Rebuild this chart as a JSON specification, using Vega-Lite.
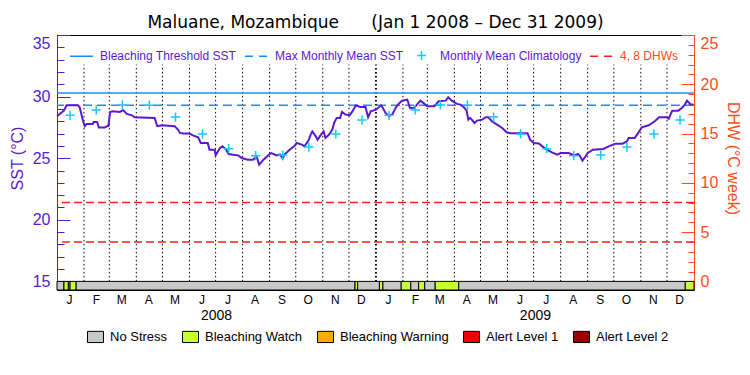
{
  "$schema": "https://vega.github.io/schema/vega-lite/v6.json",
  "width": 637,
  "height": 255,
  "autosize": {"type": "none"},
  "padding": {"left": 57, "top": 35, "right": 56, "bottom": 85},
  "background": "white",
  "config": {
    "view": {"stroke": "black", "strokeWidth": 1},
    "font": "Liberation Sans",
    "axis": {"labelFont": "Liberation Sans", "titleFont": "Liberation Sans", "titleFontWeight": "normal", "grid": false}
  },
  "title": {
    "text": "Maluane, Mozambique\u00a0\u00a0\u00a0\u00a0\u00a0\u00a0(Jan 1 2008 \u2013 Dec 31 2009)",
    "font": "DejaVu Sans", "fontSize": 17, "fontWeight": "normal", "color": "black",
    "offset": 3, "anchor": "middle"
  },
  "datasets": {
    "months": [
      {"date": "2008-02-01"}, {"date": "2008-03-01"}, {"date": "2008-04-01"}, {"date": "2008-05-01"},
      {"date": "2008-06-01"}, {"date": "2008-07-01"}, {"date": "2008-08-01"}, {"date": "2008-09-01"},
      {"date": "2008-10-01"}, {"date": "2008-11-01"}, {"date": "2008-12-01"}, {"date": "2009-01-01"},
      {"date": "2009-02-01"}, {"date": "2009-03-01"}, {"date": "2009-04-01"}, {"date": "2009-05-01"},
      {"date": "2009-06-01"}, {"date": "2009-07-01"}, {"date": "2009-08-01"}, {"date": "2009-09-01"},
      {"date": "2009-10-01"}, {"date": "2009-11-01"}, {"date": "2009-12-01"}
    ],
    "refs": [
      {"series": "Bleaching Threshold SST", "sst": 30.3},
      {"series": "Max Monthly Mean SST", "sst": 29.3}
    ],
    "dhw": [
      {"series": "4, 8 DHWs", "dhw": 4},
      {"series": "4, 8 DHWs", "dhw": 8}
    ],
    "sst": [
      {"date": "2008-01-01", "sst": 28.40}, {"date": "2008-01-09", "sst": 28.86}, {"date": "2008-01-12", "sst": 29.30},
      {"date": "2008-01-25", "sst": 29.30}, {"date": "2008-01-27", "sst": 29.13}, {"date": "2008-01-31", "sst": 28.00},
      {"date": "2008-02-02", "sst": 27.60}, {"date": "2008-02-04", "sst": 27.78}, {"date": "2008-02-11", "sst": 27.78},
      {"date": "2008-02-12", "sst": 27.94}, {"date": "2008-02-16", "sst": 27.94}, {"date": "2008-02-18", "sst": 27.50},
      {"date": "2008-02-25", "sst": 27.50}, {"date": "2008-02-28", "sst": 27.62}, {"date": "2008-02-29", "sst": 27.62},
      {"date": "2008-03-02", "sst": 28.75}, {"date": "2008-03-05", "sst": 28.80}, {"date": "2008-03-13", "sst": 28.75},
      {"date": "2008-03-17", "sst": 28.90}, {"date": "2008-03-21", "sst": 28.59}, {"date": "2008-03-27", "sst": 28.48},
      {"date": "2008-03-30", "sst": 28.32}, {"date": "2008-04-22", "sst": 28.27}, {"date": "2008-04-25", "sst": 27.60},
      {"date": "2008-04-30", "sst": 27.67}, {"date": "2008-05-15", "sst": 27.60}, {"date": "2008-05-19", "sst": 27.30},
      {"date": "2008-05-21", "sst": 27.05}, {"date": "2008-05-25", "sst": 27.00}, {"date": "2008-06-01", "sst": 27.00},
      {"date": "2008-06-05", "sst": 26.85}, {"date": "2008-06-11", "sst": 26.69}, {"date": "2008-06-14", "sst": 26.23},
      {"date": "2008-06-22", "sst": 26.23}, {"date": "2008-06-24", "sst": 25.69}, {"date": "2008-06-30", "sst": 25.69},
      {"date": "2008-07-01", "sst": 25.23}, {"date": "2008-07-06", "sst": 25.83}, {"date": "2008-07-09", "sst": 25.96},
      {"date": "2008-07-13", "sst": 25.70}, {"date": "2008-07-16", "sst": 25.34}, {"date": "2008-07-21", "sst": 25.28},
      {"date": "2008-07-27", "sst": 25.23}, {"date": "2008-07-31", "sst": 25.01}, {"date": "2008-08-07", "sst": 24.88},
      {"date": "2008-08-13", "sst": 24.88}, {"date": "2008-08-17", "sst": 25.15}, {"date": "2008-08-20", "sst": 24.47},
      {"date": "2008-08-25", "sst": 24.88}, {"date": "2008-08-31", "sst": 25.28}, {"date": "2008-09-03", "sst": 25.42},
      {"date": "2008-09-09", "sst": 25.23}, {"date": "2008-09-13", "sst": 25.30}, {"date": "2008-09-16", "sst": 24.96},
      {"date": "2008-09-18", "sst": 25.30}, {"date": "2008-09-24", "sst": 25.69}, {"date": "2008-09-30", "sst": 26.02},
      {"date": "2008-10-02", "sst": 26.23}, {"date": "2008-10-08", "sst": 26.10}, {"date": "2008-10-11", "sst": 25.96},
      {"date": "2008-10-16", "sst": 26.50}, {"date": "2008-10-18", "sst": 26.90}, {"date": "2008-10-20", "sst": 27.18},
      {"date": "2008-10-24", "sst": 26.77}, {"date": "2008-10-26", "sst": 26.50}, {"date": "2008-10-30", "sst": 26.91},
      {"date": "2008-11-02", "sst": 27.18}, {"date": "2008-11-04", "sst": 26.64}, {"date": "2008-11-08", "sst": 26.90},
      {"date": "2008-11-12", "sst": 27.32}, {"date": "2008-11-14", "sst": 27.86}, {"date": "2008-11-17", "sst": 28.27},
      {"date": "2008-11-21", "sst": 28.27}, {"date": "2008-11-23", "sst": 28.75}, {"date": "2008-11-27", "sst": 28.54},
      {"date": "2008-12-02", "sst": 28.50}, {"date": "2008-12-05", "sst": 28.80}, {"date": "2008-12-09", "sst": 29.29},
      {"date": "2008-12-14", "sst": 29.16}, {"date": "2008-12-20", "sst": 29.16}, {"date": "2008-12-23", "sst": 28.32},
      {"date": "2008-12-26", "sst": 28.80}, {"date": "2009-01-01", "sst": 28.94}, {"date": "2009-01-07", "sst": 29.29},
      {"date": "2009-01-08", "sst": 29.20}, {"date": "2009-01-12", "sst": 28.67}, {"date": "2009-01-16", "sst": 28.40},
      {"date": "2009-01-20", "sst": 28.59}, {"date": "2009-01-24", "sst": 29.13}, {"date": "2009-01-27", "sst": 29.41},
      {"date": "2009-01-31", "sst": 29.67}, {"date": "2009-02-06", "sst": 29.76}, {"date": "2009-02-09", "sst": 29.08},
      {"date": "2009-02-14", "sst": 29.10}, {"date": "2009-02-17", "sst": 29.35}, {"date": "2009-02-21", "sst": 29.67},
      {"date": "2009-02-25", "sst": 29.45}, {"date": "2009-03-01", "sst": 29.21}, {"date": "2009-03-09", "sst": 29.21},
      {"date": "2009-03-14", "sst": 29.62}, {"date": "2009-03-22", "sst": 29.67}, {"date": "2009-03-25", "sst": 29.94},
      {"date": "2009-03-29", "sst": 29.67}, {"date": "2009-04-04", "sst": 29.41}, {"date": "2009-04-08", "sst": 29.35},
      {"date": "2009-04-12", "sst": 29.13}, {"date": "2009-04-15", "sst": 28.86}, {"date": "2009-04-17", "sst": 28.13},
      {"date": "2009-04-19", "sst": 28.27}, {"date": "2009-04-21", "sst": 28.13}, {"date": "2009-04-24", "sst": 27.86},
      {"date": "2009-04-27", "sst": 28.05}, {"date": "2009-05-03", "sst": 28.13}, {"date": "2009-05-07", "sst": 28.32},
      {"date": "2009-05-10", "sst": 28.32}, {"date": "2009-05-14", "sst": 28.00}, {"date": "2009-05-20", "sst": 27.72},
      {"date": "2009-05-26", "sst": 27.45}, {"date": "2009-05-31", "sst": 27.10}, {"date": "2009-06-04", "sst": 27.02},
      {"date": "2009-06-24", "sst": 27.02}, {"date": "2009-06-27", "sst": 26.50}, {"date": "2009-07-01", "sst": 26.23},
      {"date": "2009-07-07", "sst": 26.20}, {"date": "2009-07-10", "sst": 26.02}, {"date": "2009-07-16", "sst": 25.69},
      {"date": "2009-07-22", "sst": 25.47}, {"date": "2009-07-28", "sst": 25.28}, {"date": "2009-08-01", "sst": 25.42},
      {"date": "2009-08-10", "sst": 25.42}, {"date": "2009-08-17", "sst": 25.23}, {"date": "2009-08-21", "sst": 25.35},
      {"date": "2009-08-23", "sst": 25.20}, {"date": "2009-08-26", "sst": 24.80}, {"date": "2009-08-29", "sst": 25.10},
      {"date": "2009-09-01", "sst": 25.42}, {"date": "2009-09-07", "sst": 25.69}, {"date": "2009-09-19", "sst": 25.75},
      {"date": "2009-09-25", "sst": 25.96}, {"date": "2009-10-03", "sst": 26.18}, {"date": "2009-10-11", "sst": 26.18},
      {"date": "2009-10-16", "sst": 26.37}, {"date": "2009-10-18", "sst": 26.64}, {"date": "2009-10-25", "sst": 26.64},
      {"date": "2009-10-29", "sst": 27.05}, {"date": "2009-11-02", "sst": 27.50}, {"date": "2009-11-10", "sst": 27.67},
      {"date": "2009-11-17", "sst": 28.00}, {"date": "2009-11-22", "sst": 28.32}, {"date": "2009-12-01", "sst": 28.32},
      {"date": "2009-12-03", "sst": 28.20}, {"date": "2009-12-07", "sst": 28.86}, {"date": "2009-12-14", "sst": 28.86},
      {"date": "2009-12-18", "sst": 29.08}, {"date": "2009-12-21", "sst": 29.30}, {"date": "2009-12-24", "sst": 29.67},
      {"date": "2009-12-27", "sst": 29.45}, {"date": "2009-12-28", "sst": 29.35}, {"date": "2009-12-31", "sst": 29.35}
    ],
    "clim": [
      {"date": "2008-01-16", "sst": 28.48}, {"date": "2008-02-15", "sst": 28.92}, {"date": "2008-03-16", "sst": 29.32},
      {"date": "2008-04-16", "sst": 29.30}, {"date": "2008-05-16", "sst": 28.34}, {"date": "2008-06-16", "sst": 26.97},
      {"date": "2008-07-16", "sst": 25.77}, {"date": "2008-08-16", "sst": 25.20}, {"date": "2008-09-16", "sst": 25.25},
      {"date": "2008-10-16", "sst": 25.90}, {"date": "2008-11-16", "sst": 26.97}, {"date": "2008-12-16", "sst": 28.10},
      {"date": "2009-01-16", "sst": 28.48}, {"date": "2009-02-15", "sst": 28.92}, {"date": "2009-03-16", "sst": 29.32},
      {"date": "2009-04-16", "sst": 29.30}, {"date": "2009-05-16", "sst": 28.34}, {"date": "2009-06-16", "sst": 26.97},
      {"date": "2009-07-16", "sst": 25.77}, {"date": "2009-08-16", "sst": 25.20}, {"date": "2009-09-16", "sst": 25.25},
      {"date": "2009-10-16", "sst": 25.90}, {"date": "2009-11-16", "sst": 26.97}, {"date": "2009-12-16", "sst": 28.10}
    ],
    "stress": [
      {"start": "2008-01-01", "end": "2008-01-09", "level": "No Stress"},
      {"start": "2008-01-09", "end": "2008-01-14", "level": "Bleaching Watch"},
      {"start": "2008-01-14", "end": "2008-01-16", "level": "No Stress"},
      {"start": "2008-01-16", "end": "2008-01-23", "level": "Bleaching Watch"},
      {"start": "2008-01-23", "end": "2008-12-08", "level": "No Stress"},
      {"start": "2008-12-08", "end": "2008-12-11", "level": "Bleaching Watch"},
      {"start": "2008-12-11", "end": "2009-01-05", "level": "No Stress"},
      {"start": "2009-01-05", "end": "2009-01-09", "level": "Bleaching Watch"},
      {"start": "2009-01-09", "end": "2009-01-30", "level": "No Stress"},
      {"start": "2009-01-30", "end": "2009-02-10", "level": "Bleaching Watch"},
      {"start": "2009-02-10", "end": "2009-02-19", "level": "No Stress"},
      {"start": "2009-02-19", "end": "2009-02-26", "level": "Bleaching Watch"},
      {"start": "2009-02-26", "end": "2009-03-10", "level": "No Stress"},
      {"start": "2009-03-10", "end": "2009-04-06", "level": "Bleaching Watch"},
      {"start": "2009-04-06", "end": "2009-12-22", "level": "No Stress"},
      {"start": "2009-12-22", "end": "2010-01-01", "level": "Bleaching Watch"}
    ]
  },
  "resolve": {"scale": {"x": "independent", "y": "independent"}},
  "layer": [
    {
      "data": {"name": "months"},
      "mark": {"type": "rule", "color": "black", "strokeDash": [1.5, 2.5]},
      "encoding": {
        "x": {"field": "date", "type": "temporal", "axis": null,
              "scale": {"type": "utc", "domain": [{"year": 2008, "month": 1, "date": 1, "utc": true}, {"year": 2010, "month": 1, "date": 1, "utc": true}]}},
        "y": {"datum": 15, "type": "quantitative", "axis": null, "scale": {"domain": [14.3, 35], "nice": false, "zero": false}},
        "y2": {"datum": 32.6},
        "strokeWidth": {"condition": {"test": "utcyear(datum.date) == 2009 && utcmonth(datum.date) == 0", "value": 2}, "value": 1}
      }
    },
    {
      "data": {"name": "refs"},
      "mark": {"type": "rule", "strokeWidth": 1.5},
      "encoding": {
        "y": {"field": "sst", "type": "quantitative",
              "scale": {"domain": [14.3, 35], "nice": false, "zero": false},
              "axis": {"orient": "left", "title": null, "labels": false, "domain": false,
                       "values": [15,16,17,18,19,20,21,22,23,24,25,26,27,28,29,30,31,32,33,34,35],
                       "tickSize": -7, "tickColor": "#5b19cf", "tickWidth": 1}},
        "color": {"field": "series", "type": "nominal",
                  "scale": {"domain": ["Bleaching Threshold SST", "Max Monthly Mean SST", "Monthly Mean Climatology", "4, 8 DHWs"],
                            "range": ["#1e8cff", "#1e8cff", "#14c8ff", "#ff1e1e"]},
                  "legend": {
                    "orient": "none", "legendX": 12, "legendY": 8, "direction": "horizontal", "title": null,
                    "labelFont": "Liberation Sans", "labelFontSize": 12, "labelOffset": 6, "columnPadding": 5,
                    "symbolSize": 529, "symbolType": "stroke", "symbolStrokeWidth": 1.5,
                    "encode": {
                      "symbols": {"update": {
                        "shape": {"signal": "datum.value === 'Monthly Mean Climatology' ? 'M-1,0H1M0,-1V1' : 'stroke'"},
                        "size": {"signal": "datum.value === 'Monthly Mean Climatology' ? 81 : 529"},
                        "stroke": {"scale": "color", "field": "value"},
                        "fill": {"value": "transparent"},
                        "strokeDash": {"signal": "(datum.value === 'Max Monthly Mean SST' || datum.value === '4, 8 DHWs') ? [8, 6] : [1, 0]"},
                        "strokeWidth": {"value": 1.5},
                        "opacity": {"value": 1}
                      }},
                      "labels": {"update": {"fill": {"signal": "datum.value === '4, 8 DHWs' ? '#ff4a1c' : '#5b19cf'"}}}
                    }
                  }},
        "strokeDash": {"condition": {"test": "datum.series === 'Max Monthly Mean SST'", "value": [9, 5]}, "value": [1, 0]}
      }
    },
    {
      "data": {"name": "dhw"},
      "mark": {"type": "rule", "strokeWidth": 1.5, "strokeDash": [8, 4]},
      "encoding": {
        "y": {"field": "dhw", "type": "quantitative",
              "scale": {"domain": [-0.875, 25], "nice": false, "zero": false},
              "axis": {"orient": "right", "title": "DHW (°C week)", "values": [0, 5, 10, 15, 20, 25],
                       "tickSize": -13, "labelPadding": 19, "labelFlush": true, "labelOverlap": false,
                       "domainColor": "#ff4a1c", "tickColor": "#ff4a1c", "labelColor": "#ff4a1c", "titleColor": "#ff4a1c",
                       "labelFontSize": 16, "titleFontSize": 16, "titleX": 38, "titleY": 123, "titleAngle": 90,
                       "titleAlign": "center", "titleBaseline": "middle"}},
        "color": {"field": "series", "type": "nominal"}
      }
    },
    {
      "data": {"name": "sst"},
      "mark": {"type": "line", "color": "#5b19cf", "strokeWidth": 2},
      "encoding": {
        "x": {"field": "date", "type": "temporal",
              "scale": {"type": "utc", "domain": [{"year": 2008, "month": 1, "date": 1, "utc": true}, {"year": 2010, "month": 1, "date": 1, "utc": true}]},
              "axis": {"orient": "bottom", "title": null, "domain": false, "ticks": false,
                       "tickCount": {"interval": "month", "step": 1},
                       "labelExpr": "utcyear(datum.value) > 2009 ? '' : substring(utcFormat(datum.value, '%b'), 0, 1)",
                       "labelOffset": 12, "labelPadding": 4, "labelFontSize": 12, "labelColor": "black",
                       "labelOverlap": false, "labelFlush": false, "labelBound": false, "labelAlign": "center", "labelBaseline": "top"}},
        "y": {"field": "sst", "type": "quantitative",
              "scale": {"domain": [14.3, 35], "nice": false, "zero": false},
              "axis": {"orient": "left", "title": "SST (°C)", "values": [15, 20, 25, 30, 35],
                       "tickSize": -13, "labelPadding": 20, "labelFlush": true, "labelOverlap": false,
                       "domainColor": "#5b19cf", "tickColor": "#5b19cf", "labelColor": "#5b19cf", "titleColor": "#5b19cf",
                       "labelFontSize": 16, "titleFontSize": 16, "titleX": -40, "titleY": 123,
                       "titleAlign": "center", "titleBaseline": "middle"}}
      }
    },
    {
      "data": {"name": "clim"},
      "mark": {"type": "point", "shape": "M-1,0H1M0,-1V1", "filled": false, "size": 86, "strokeWidth": 1.5, "opacity": 1},
      "encoding": {
        "x": {"field": "date", "type": "temporal", "axis": null,
              "scale": {"type": "utc", "domain": [{"year": 2008, "month": 1, "date": 1, "utc": true}, {"year": 2010, "month": 1, "date": 1, "utc": true}]}},
        "y": {"field": "sst", "type": "quantitative", "axis": null, "scale": {"domain": [14.3, 35], "nice": false, "zero": false}},
        "color": {"datum": "Monthly Mean Climatology", "type": "nominal"}
      }
    },
    {
      "data": {"name": "stress"},
      "mark": {"type": "rect", "stroke": "black", "strokeWidth": 1},
      "encoding": {
        "x": {"field": "start", "type": "temporal",
              "scale": {"type": "utc", "domain": [{"year": 2008, "month": 1, "date": 1, "utc": true}, {"year": 2010, "month": 1, "date": 1, "utc": true}]},
              "axis": {"orient": "bottom", "title": null, "domain": false, "ticks": false,
                       "values": [{"year": 2008, "month": 1, "date": 1, "utc": true}, {"year": 2009, "month": 1, "date": 1, "utc": true}],
                       "labelExpr": "utcFormat(datum.value, '%Y')", "labelOffset": 159, "labelPadding": 18,
                       "labelFontSize": 14, "labelColor": "black", "labelOverlap": false, "labelFlush": false, "labelBound": false,
                       "labelAlign": "center", "labelBaseline": "top"}},
        "x2": {"field": "end"},
        "y": {"datum": 0, "type": "quantitative",
              "scale": {"domain": [-0.875, 25], "nice": false, "zero": false},
              "axis": {"orient": "right", "title": null, "labels": false, "domain": false,
                       "values": [0,1,2,3,4,5,6,7,8,9,10,11,12,13,14,15,16,17,18,19,20,21,22,23,24,25],
                       "tickSize": -6, "tickColor": "#ff4a1c", "tickWidth": 1}},
        "y2": {"datum": -0.875},
        "fill": {"field": "level", "type": "nominal",
                 "scale": {"domain": ["No Stress", "Bleaching Watch", "Bleaching Warning", "Alert Level 1", "Alert Level 2"],
                           "range": ["#c8c8c8", "#c8ff32", "#ffaa00", "#f00000", "#960000"]},
                 "legend": {"orient": "none", "legendX": 30, "legendY": 293, "direction": "horizontal", "title": null,
                            "labelFont": "Liberation Sans", "labelFontSize": 13, "labelColor": "black", "labelOffset": 6,
                            "columnPadding": 12, "symbolType": "M-1,-0.7H1V0.7H-1Z", "symbolSize": 256,
                            "symbolStrokeColor": "black", "symbolStrokeWidth": 1, "symbolOpacity": 1,
                            "encode": {"symbols": {"update": {"stroke": {"value": "black"}, "strokeWidth": {"value": 1}}}}}}
      }
    }
  ]
}
